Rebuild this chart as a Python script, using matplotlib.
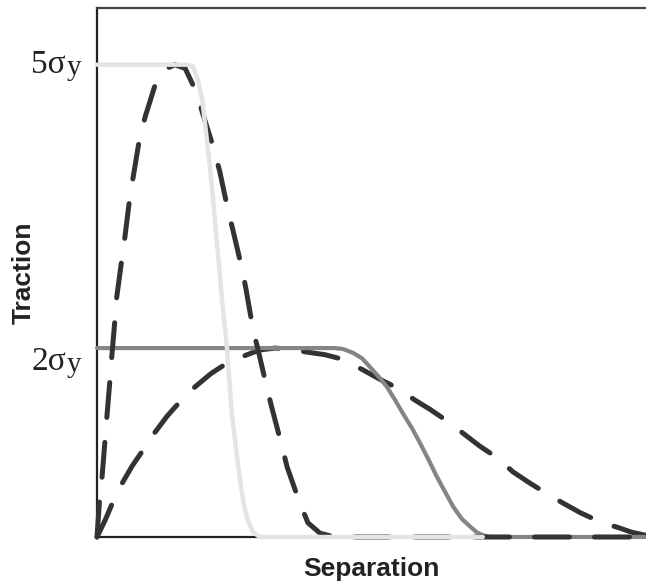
import matplotlib
matplotlib.use("Agg")
import matplotlib.pyplot as plt
from matplotlib.transforms import blended_transform_factory, offset_copy

# separation (fraction of axis width) / traction (in units of sigma_y)
sep_light = [0.000, 0.166, 0.175, 0.184, 0.192, 0.199, 0.206, 0.212, 0.217, 0.223,
             0.228, 0.234, 0.237, 0.246, 0.254, 0.261, 0.268, 0.276, 0.285, 0.297, 0.704]
trac_light = [5.00, 5.00, 4.98, 4.84, 4.63, 4.28, 3.92, 3.57, 3.22, 2.86,
              2.51, 2.19, 2.01, 1.31, 0.92, 0.60, 0.34, 0.16, 0.05, 0.00, 0.00]

sep_mid = [0.000, 0.434, 0.449, 0.467, 0.484, 0.498, 0.515, 0.529, 0.544, 0.558, 0.575,
           0.589, 0.604, 0.620, 0.635, 0.650, 0.666, 0.681, 0.693, 0.704, 0.717, 1.000]
trac_mid = [2.00, 2.00, 1.99, 1.95, 1.89, 1.80, 1.69, 1.59, 1.45, 1.31, 1.15,
            1.00, 0.83, 0.64, 0.48, 0.32, 0.19, 0.11, 0.05, 0.02, 0.00, 0.00]

sep_dash_hi = [0.000, 0.005, 0.009, 0.015, 0.018, 0.024, 0.027, 0.033, 0.036, 0.046, 0.051,
               0.060, 0.066, 0.078, 0.088, 0.109, 0.124, 0.142, 0.161, 0.182, 0.192, 0.211,
               0.224, 0.239, 0.248, 0.265, 0.272, 0.285, 0.294, 0.310, 0.319, 0.338, 0.347,
               0.370, 0.385, 0.407, 0.434, 1.000]
trac_dash_hi = [0.00, 0.42, 0.62, 1.05, 1.27, 1.69, 1.91, 2.32, 2.54, 2.97, 3.18,
                3.60, 3.81, 4.23, 4.45, 4.84, 4.95, 5.00, 4.96, 4.70, 4.50, 4.15,
                3.87, 3.46, 3.25, 2.83, 2.62, 2.19, 1.98, 1.58, 1.37, 0.95, 0.74,
                0.36, 0.15, 0.04, 0.00, 0.00]

sep_dash_lo = [0.000, 0.015, 0.029, 0.046, 0.064, 0.084, 0.106, 0.128, 0.151, 0.179, 0.208,
               0.237, 0.274, 0.297, 0.325, 0.352, 0.380, 0.416, 0.449, 0.485, 0.516, 0.547,
               0.580, 0.608, 0.641, 0.672, 0.699, 0.730, 0.759, 0.790, 0.818, 0.850, 0.881,
               0.918, 0.951, 0.976, 1.000]
trac_dash_lo = [0.00, 0.18, 0.37, 0.57, 0.75, 0.92, 1.11, 1.28, 1.43, 1.59, 1.73,
                1.84, 1.93, 1.98, 2.00, 1.99, 1.96, 1.93, 1.88, 1.77, 1.67, 1.58,
                1.45, 1.35, 1.22, 1.08, 0.96, 0.84, 0.69, 0.57, 0.47, 0.36, 0.26,
                0.16, 0.10, 0.05, 0.02]

ytick_pos = [2, 5]
ytick_labels = ['2σ', '5σ']
ytick_sub = 'y'

fig = plt.figure(figsize=(6.46, 5.84), dpi=100)
ax = fig.add_axes([97 / 646, 47 / 584, 548 / 646, 529 / 584])
ax.set_xlim(0, 1)
ax.set_ylim(0, 5.6)

dash_style = dict(color='#333333', lw=3.6, dashes=(7, 5), dash_capstyle='round',
                  solid_capstyle='round', clip_on=False)
ax.plot(sep_dash_lo, trac_dash_lo, zorder=3, **dash_style)
ax.plot(sep_mid, trac_mid, color='#858585', lw=3.0, zorder=4, clip_on=False,
        solid_capstyle='round')
ax.plot(sep_dash_hi, trac_dash_hi, zorder=5, **dash_style)
ax.plot(sep_light, trac_light, color='#e4e4e4', lw=3.2, zorder=6, clip_on=False,
        solid_capstyle='round')

for side in ['left', 'bottom', 'top']:
    ax.spines[side].set_linewidth(1.6)
    ax.spines[side].set_color('#222222')
ax.spines['top'].set_color('#444444')
ax.spines['right'].set_visible(False)

ax.set_xticks([])
ax.set_yticks([])

# tick labels drawn by hand so the "y" can sit as a large, slightly lowered subscript
trans = blended_transform_factory(ax.transAxes, ax.transData)
for pos, lab, dy in zip(ytick_pos, ytick_labels, [-22, -8]):
    t1 = offset_copy(trans, fig=fig, x=-31, y=dy, units='dots')
    ax.text(0, pos, lab, transform=t1, ha='right', va='baseline', fontsize=24,
            family='Liberation Serif', color='#222222')
    t2 = offset_copy(trans, fig=fig, x=-30, y=dy - 2, units='dots')
    ax.text(0, pos, ytick_sub, transform=t2, ha='left', va='baseline', fontsize=21,
            family='Liberation Serif', color='#222222')

ax.set_xlabel('Separation', fontsize=19, fontweight='bold', family='Liberation Sans',
              labelpad=14.5, color='#222222')
ax.set_ylabel('Traction', fontsize=19, fontweight='bold', family='Liberation Sans',
              color='#222222')
ax.yaxis.set_label_coords(-0.112, 0.499)

fig.savefig('out.png', dpi=100, facecolor='w')
